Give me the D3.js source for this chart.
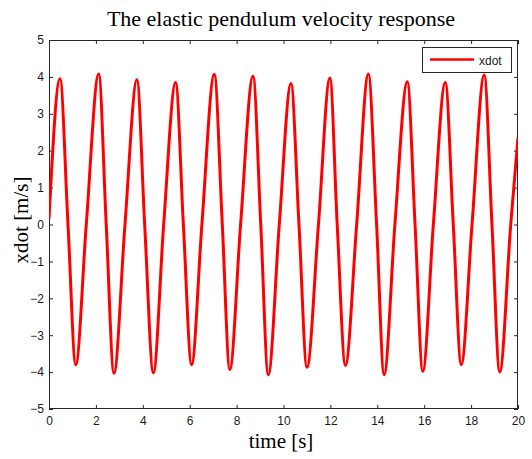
<!DOCTYPE html>
<html>
<head>
<meta charset="utf-8">
<script src="https://cdn.jsdelivr.net/npm/d3@7"></script>
<style>
  html, body { margin: 0; padding: 0; background: #fff; }
  svg { display: block; }
</style>
</head>
<body>
<svg id="chart" width="532" height="459"></svg>
<script>
// ---- data (peaks, troughs and zero crossings) ----
const time = [0, 0.47, 0.81, 1.14, 1.59, 2.12, 2.44, 2.77, 3.24, 3.75, 4.08, 4.45, 4.89,
  5.40, 5.73, 6.08, 6.52, 7.05, 7.39, 7.71, 8.17, 8.70, 9.03, 9.35, 9.82, 10.32, 10.66,
  11.00, 11.49, 11.98, 12.29, 12.64, 13.12, 13.62, 13.97, 14.29, 14.75, 15.28, 15.61,
  15.94, 16.39, 16.90, 17.24, 17.58, 18.04, 18.56, 18.89, 19.22, 19.69, 20.0];
const xdot = [0.15, 3.95, 0, -3.80, 0, 4.08, 0, -4.03, 0, 3.92, 0, -4.02, 0,
  3.85, 0, -3.80, 0, 4.07, 0, -3.93, 0, 4.02, 0, -4.07, 0, 3.82, 0,
  -3.87, 0, 3.97, 0, -3.82, 0, 4.08, 0, -4.07, 0, 3.87, 0,
  -3.98, 0, 3.85, 0, -3.80, 0, 4.05, 0, -4.00, 0, 2.36];
const xTicks = [0, 2, 4, 6, 8, 10, 12, 14, 16, 18, 20];
const yTicks = [-5, -4, -3, -2, -1, 0, 1, 2, 3, 4, 5];
const titleText = "The elastic pendulum velocity response";
const xLabel = "time [s]";
const yLabel = "xdot [m/s]";
const legendLabel = "xdot";

// ---- layout ----
const L = 49, R = 518, T = 40, B = 409;
const svg = d3.select("#chart");
const x = d3.scaleLinear().domain([0, 20]).range([L, R]);
const y = d3.scaleLinear().domain([-5, 5]).range([B, T]);
const axisColor = "#262626";
const tickFont = "'Liberation Sans', Arial, sans-serif";
const serif = "'Liberation Serif', 'Times New Roman', serif";

// plot background
svg.append("rect").attr("x", L).attr("y", T).attr("width", R - L).attr("height", B - T)
  .attr("fill", "#fff");

function styleAxis(g) {
  g.select(".domain").remove();
  g.selectAll(".tick line").attr("stroke", axisColor).attr("stroke-width", 1);
  g.selectAll(".tick text").attr("fill", "#1a1a1a")
    .style("font-family", tickFont).style("font-size", "12px");
}

svg.append("g").attr("transform", `translate(0,${B})`)
  .call(d3.axisBottom(x).tickValues(xTicks).tickSizeInner(-4).tickSizeOuter(0).tickPadding(7.5))
  .call(styleAxis);
svg.append("g").attr("transform", `translate(0,${T})`)
  .call(d3.axisTop(x).tickValues(xTicks).tickSizeInner(-4).tickSizeOuter(0).tickFormat(""))
  .call(styleAxis);
svg.append("g").attr("transform", `translate(${L},0)`)
  .call(d3.axisLeft(y).tickValues(yTicks).tickSizeInner(-4).tickSizeOuter(0).tickPadding(5))
  .call(styleAxis);
svg.append("g").attr("transform", `translate(${R},0)`)
  .call(d3.axisRight(y).tickValues(yTicks).tickSizeInner(-4).tickSizeOuter(0).tickFormat(""))
  .call(styleAxis);

// box
svg.append("rect").attr("x", L + 0.5).attr("y", T + 0.5)
  .attr("width", R - L - 1).attr("height", B - T - 1)
  .attr("fill", "none").attr("stroke", axisColor).attr("stroke-width", 1);

// data line
const pts = time.map((t, i) => [t, xdot[i]]);
svg.append("defs").append("clipPath").attr("id", "clip")
  .append("rect").attr("x", L).attr("y", T).attr("width", R - L).attr("height", B - T);
svg.append("path").datum(pts)
  .attr("clip-path", "url(#clip)")
  .attr("fill", "none").attr("stroke", "#ff0000").attr("stroke-width", 3)
  .attr("stroke-linejoin", "round")
  .attr("d", d3.line().x(d => x(d[0])).y(d => y(d[1])).curve(d3.curveMonotoneX));

// legend
const lg = svg.append("g");
lg.append("rect").attr("x", 422.5).attr("y", 47.5).attr("width", 89).attr("height", 25)
  .attr("fill", "#fff").attr("stroke", axisColor).attr("stroke-width", 1);
lg.append("line").attr("x1", 430).attr("x2", 474).attr("y1", 59.5).attr("y2", 59.5)
  .attr("stroke", "#ff0000").attr("stroke-width", 2.6);
lg.append("text").attr("x", 479).attr("y", 64.5).text(legendLabel)
  .attr("fill", "#1a1a1a").style("font-family", tickFont).style("font-size", "12px");

// title & labels
svg.append("text").attr("x", 281).attr("y", 26).attr("text-anchor", "middle")
  .text(titleText).attr("fill", "#000")
  .style("font-family", serif).style("font-size", "22px");
svg.append("text").attr("x", 281).attr("y", 448).attr("text-anchor", "middle")
  .text(xLabel).attr("fill", "#000")
  .style("font-family", serif).style("font-size", "21px");
svg.append("text").attr("transform", "translate(28,220) rotate(-90)")
  .attr("text-anchor", "middle").text(yLabel).attr("fill", "#000")
  .style("font-family", serif).style("font-size", "21px");
</script>
</body>
</html>
